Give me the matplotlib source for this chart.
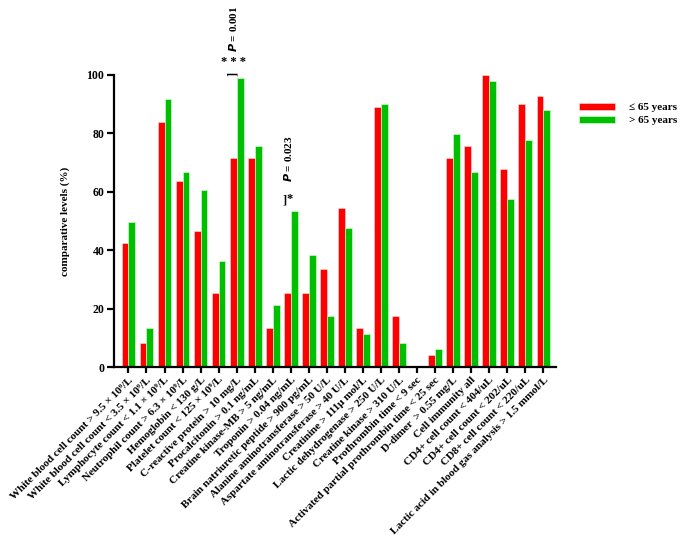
import numpy as np
import matplotlib
matplotlib.use("Agg")
import matplotlib.pyplot as plt

# =======================
# Datos
# =======================
categories = [
    "White blood cell count > 9.5 × 10⁹/L",
    "White blood cell count < 3.5 × 10⁹/L",
    "Lymphocyte count < 1.1 × 10⁹/L",
    "Neutrophil count > 6.3 × 10⁹/L",
    "Hemoglobin < 130 g/L",
    "Platelet count < 125 × 10⁹/L",
    "C-reactive protein > 10 mg/L",
    "Procalcitonin > 0.1 ng/mL",
    "Creatine kinase-MB > 5 ng/mL",
    "Troponin > 0.04 ng/mL",
    "Brain natriuretic peptide > 900 pg/mL",
    "Alanine aminotransferase > 50 U/L",
    "Aspartate aminotransferase > 40 U/L",
    "Creatinine > 111μ mol/L",
    "Lactic dehydrogenase > 250 U/L",
    "Creatine kinase > 310 U/L",
    "Prothrombin time < 9 sec",
    "Activated partial prothrombin time < 25 sec",
    "D-dimer  > 0.55 mg/L",
    "Cell immunity all",
    "CD4+ cell count < 404/uL",
    "CD4+ cell count < 202/uL",
    "CD8+ cell count < 220/uL",
    "Lactic acid in blood gas analysis > 1.5 mmol/L",
]
le65 = [42.5, 8.2, 83.8, 63.7, 46.6, 25.4, 71.7, 71.7, 13.4, 25.4, 25.4, 33.4,
        54.6, 13.4, 88.9, 17.3, 0, 4.2, 71.7, 75.7, 100, 67.7, 89.9, 92.9]
gt65 = [49.5, 13.4, 91.9, 66.7, 60.7, 36.4, 98.9, 75.7, 21.3, 53.5, 38.5, 17.3,
        47.5, 11.2, 89.9, 8.2, 0, 6.3, 79.7, 66.7, 97.8, 57.6, 77.8, 87.9]
series_labels = ["≤ 65 years", "> 65 years"]

RED = "#FF0000"
GREEN = "#00BF00"
serif = ["Liberation Serif", "DejaVu Serif"]
plt.rcParams["font.family"] = serif
plt.rcParams["font.weight"] = "bold"

fig = plt.figure(figsize=(6.85, 5.43), dpi=100)
ax = fig.add_axes([0.1664, 0.3241, 0.6453, 0.5378])

x = np.arange(len(categories))
w = 0.38
ax.bar(x - w / 2, le65, width=w, color=RED, edgecolor="#FFE0E0", linewidth=0.4,
       label=series_labels[0])
ax.bar(x + w / 2, gt65, width=w, color=GREEN, edgecolor="#E0FFE0", linewidth=0.4,
       label=series_labels[1])

ax.set_xlim(-0.8, 23.7)
ax.set_ylim(0, 100)
ax.set_yticks([0, 20, 40, 60, 80, 100])
ax.set_xticks(x)
ax.set_xticklabels(categories, rotation=45, ha="right", rotation_mode="anchor",
                   fontsize=8, fontweight="bold")
for lab in ax.get_yticklabels():
    lab.set_fontsize(8.5)
    lab.set_fontweight("bold")
ax.set_ylabel("comparative levels (%)", fontsize=8, fontweight="bold", labelpad=12)

for s in ["top", "right"]:
    ax.spines[s].set_visible(False)
for s in ["left", "bottom"]:
    ax.spines[s].set_linewidth(1.6)
ax.tick_params(axis="y", width=1.6, length=5, pad=2)
ax.tick_params(axis="x", width=1.6, length=4, pad=2)

# anotaciones de significancia
ax.text(5.8, 99.8, "]", rotation=90, ha="center", va="bottom", fontsize=9,
        fontweight="bold", clip_on=False)
ax.text(5.85, 102.5, "* * *", ha="center", va="bottom", fontsize=9,
        fontweight="bold", clip_on=False)
ax.text(5.8, 108, "$\\mathit{P}$ = 0.001", rotation=90, ha="center", va="bottom",
        fontsize=8, fontweight="bold", clip_on=False)

ax.text(8.65, 55, "]", ha="center", va="bottom", fontsize=9, fontweight="bold")
ax.text(8.95, 55.5, "*", ha="center", va="bottom", fontsize=9, fontweight="bold")
ax.text(8.85, 63.5, "$\\mathit{P}$ = 0.023", rotation=90, ha="center", va="bottom",
        fontsize=8, fontweight="bold")

leg = fig.legend(loc="upper left", bbox_to_anchor=(0.831, 0.829), frameon=False,
                 prop={"family": serif, "weight": "bold", "size": 8},
                 handlelength=3.2, handleheight=0.55, labelspacing=0.35,
                 handletextpad=1.3)

plt.savefig("out.png", dpi=100)
